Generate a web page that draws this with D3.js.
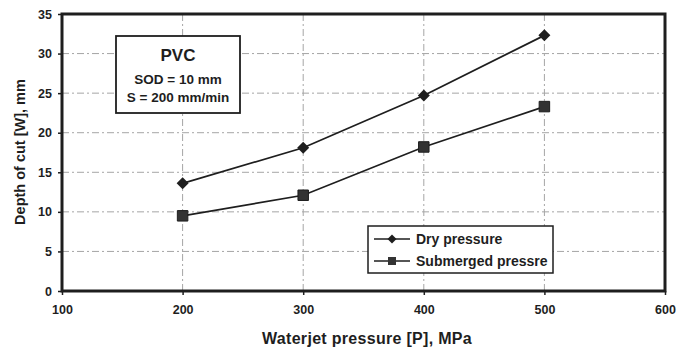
<!DOCTYPE html>
<html>
<head>
<meta charset="utf-8">
<script src="https://cdn.jsdelivr.net/npm/d3@7"></script>
<style>
  html, body { margin: 0; padding: 0; background: #fff; }
  svg { display: block; font-family: Arial, "Liberation Sans", sans-serif; }
</style>
</head>
<body>
<svg id="chart" width="681" height="354"></svg>
<script>
// Waterjet cutting of PVC: depth of cut vs. pressure
const pressures = [200, 300, 400, 500];
const dryDepth = [13.6, 18.1, 24.7, 32.3];
const submergedDepth = [9.5, 12.1, 18.2, 23.3];
const xTicks = [100, 200, 300, 400, 500, 600];
const yTicks = [0, 5, 10, 15, 20, 25, 30, 35];
const seriesNames = ["Dry pressure", "Submerged pressre"];
const infoLines = ["PVC", "SOD = 10 mm", "S = 200 mm/min"];

const svg = d3.select("#chart");
const margin = { left: 62, right: 16, top: 14, bottom: 63 };
const W = 681, H = 354;

const x = d3.scaleLinear().domain([100, 600]).range([margin.left, W - margin.right]);
const y = d3.scaleLinear().domain([0, 35]).range([H - margin.bottom, margin.top]);

const ink = "#1e1e1e";

// gridlines
const grid = svg.append("g").attr("stroke", "#a5a5a5").attr("stroke-width", 1)
  .attr("stroke-dasharray", "7,3,2,3");
grid.selectAll("line.h").data(yTicks.filter(t => t > 0 && t < 35)).join("line")
  .attr("x1", x(100)).attr("x2", x(600))
  .attr("y1", d => y(d)).attr("y2", d => y(d));
grid.selectAll("line.v").data(xTicks.filter(t => t > 100 && t < 600)).join("line")
  .attr("y1", y(0)).attr("y2", y(35))
  .attr("x1", d => x(d)).attr("x2", d => x(d));

// axes
const xAxis = d3.axisBottom(x).tickValues(xTicks).tickSize(4).tickPadding(10).tickFormat(d3.format("d"));
const yAxis = d3.axisLeft(y).tickValues(yTicks).tickSize(4).tickPadding(6).tickFormat(d3.format("d"));

const gx = svg.append("g").attr("transform", `translate(0,${y(0)})`).call(xAxis);
const gy = svg.append("g").attr("transform", `translate(${x(100)},0)`).call(yAxis);
[gx, gy].forEach(g => {
  g.select(".domain").remove();
  g.selectAll(".tick line").attr("stroke", ink).attr("stroke-width", 1.5);
  g.selectAll(".tick text").attr("fill", ink).style("font-size", "12.5px").style("font-weight", "bold");
});

// plot frame
svg.append("rect")
  .attr("x", x(100)).attr("y", y(35))
  .attr("width", x(600) - x(100)).attr("height", y(0) - y(35))
  .attr("fill", "none").attr("stroke", ink).attr("stroke-width", 3);

// axis titles
svg.append("text")
  .attr("x", 367).attr("y", 344)
  .attr("text-anchor", "middle").attr("fill", ink)
  .style("font-size", "16px").style("font-weight", "bold")
  .style("letter-spacing", "0.3px")
  .text("Waterjet pressure [P], MPa");
svg.append("text")
  .attr("transform", `translate(25,152) rotate(-90)`)
  .attr("text-anchor", "middle").attr("fill", ink)
  .style("font-size", "14.5px").style("font-weight", "bold")
  .text("Depth of cut [W], mm");

// series
const line = d3.line().x(d => x(d[0])).y(d => y(d[1]));
const dryPts = pressures.map((p, i) => [p, dryDepth[i]]);
const subPts = pressures.map((p, i) => [p, submergedDepth[i]]);

svg.append("path").datum(dryPts).attr("d", line)
  .attr("fill", "none").attr("stroke", ink).attr("stroke-width", 1.7);
svg.append("path").datum(subPts).attr("d", line)
  .attr("fill", "none").attr("stroke", ink).attr("stroke-width", 1.7);

// diamond = square turned 45°
const diamond = d3.symbol().type(d3.symbolSquare).size(72);
const square = d3.symbol().type(d3.symbolSquare).size(110);

svg.selectAll("path.dry").data(dryPts).join("path")
  .attr("class", "dry")
  .attr("d", diamond)
  .attr("transform", d => `translate(${x(d[0])},${y(d[1])}) rotate(45)`)
  .attr("fill", ink);
svg.selectAll("path.sub").data(subPts).join("path")
  .attr("class", "sub")
  .attr("d", square)
  .attr("transform", d => `translate(${x(d[0])},${y(d[1])})`)
  .attr("fill", "#333").attr("stroke", ink).attr("stroke-width", 1);

// info box
const info = svg.append("g");
info.append("rect").attr("x", 116).attr("y", 36).attr("width", 124).attr("height", 77)
  .attr("fill", "#fff").attr("stroke", ink).attr("stroke-width", 1.8);
info.append("text").attr("x", 178).attr("y", 61).attr("text-anchor", "middle")
  .attr("fill", ink).style("font-size", "17px").style("font-weight", "bold").text(infoLines[0]);
info.append("text").attr("x", 178).attr("y", 84).attr("text-anchor", "middle")
  .attr("fill", ink).style("font-size", "13.5px").style("font-weight", "bold").text(infoLines[1]);
info.append("text").attr("x", 178).attr("y", 102).attr("text-anchor", "middle")
  .attr("fill", ink).style("font-size", "13.5px").style("font-weight", "bold").text(infoLines[2]);

// legend
const lg = svg.append("g");
lg.append("rect").attr("x", 368).attr("y", 226).attr("width", 185).attr("height", 47)
  .attr("fill", "#fff").attr("stroke", ink).attr("stroke-width", 1.5);
seriesNames.forEach((name, i) => {
  const cy = 239 + i * 22;
  lg.append("line").attr("x1", 374).attr("x2", 410).attr("y1", cy).attr("y2", cy)
    .attr("stroke", ink).attr("stroke-width", 1.5);
  lg.append("path")
    .attr("d", i === 0 ? d3.symbol().type(d3.symbolSquare).size(40)() : d3.symbol().type(d3.symbolSquare).size(64)())
    .attr("transform", i === 0 ? `translate(392,${cy}) rotate(45)` : `translate(392,${cy})`)
    .attr("fill", i === 0 ? ink : "#333");
  lg.append("text").attr("x", 416).attr("y", cy + 5).attr("fill", ink)
    .style("font-size", "14px").style("font-weight", "bold").text(name);
});
</script>
</body>
</html>
